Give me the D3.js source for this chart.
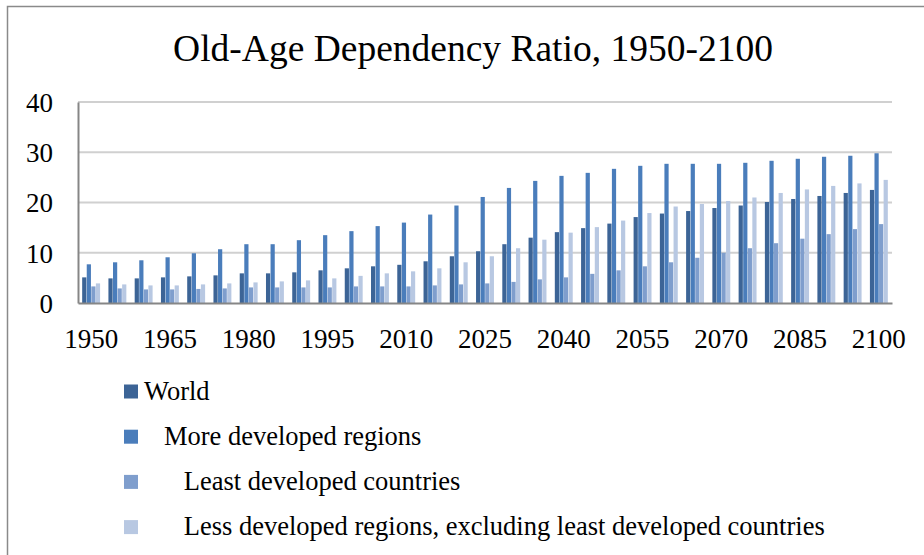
<!DOCTYPE html>
<html>
<head>
<meta charset="utf-8">
<script src="https://cdn.jsdelivr.net/npm/d3@7"></script>
<style>
  body { margin: 0; background: #fff; }
  svg { display: block; }
</style>
</head>
<body>
<div id="chart"></div>
<script>
const years = d3.range(1950, 2101, 5).map(String);
const world = [5.1, 4.9, 4.9, 5.1, 5.3, 5.5, 5.9, 5.9, 6.1, 6.5, 6.9, 7.3, 7.6, 8.3, 9.3, 10.3,
  11.7, 13.0, 14.1, 14.9, 15.8, 17.1, 17.8, 18.3, 18.9, 19.4, 20.1, 20.7, 21.3, 21.9, 22.5];
const moreDeveloped = [7.7, 8.1, 8.5, 9.1, 9.9, 10.7, 11.7, 11.7, 12.5, 13.5, 14.3, 15.3, 16.0, 17.6, 19.4, 21.1,
  22.9, 24.3, 25.3, 25.9, 26.7, 27.3, 27.7, 27.7, 27.7, 27.9, 28.3, 28.7, 29.1, 29.3, 29.8];
const leastDeveloped = [3.3, 2.9, 2.7, 2.7, 2.8, 2.9, 3.1, 3.1, 3.1, 3.1, 3.3, 3.3, 3.3, 3.5, 3.7, 3.9,
  4.2, 4.7, 5.1, 5.8, 6.5, 7.3, 8.1, 9.0, 10.0, 10.9, 11.9, 12.8, 13.7, 14.7, 15.7];
const lessDevelopedExclLdc = [3.9, 3.7, 3.5, 3.5, 3.7, 3.9, 4.1, 4.3, 4.5, 4.9, 5.4, 5.9, 6.3, 6.9, 8.1, 9.3,
  10.9, 12.6, 14.0, 15.1, 16.4, 17.9, 19.2, 19.7, 20.3, 21.0, 21.9, 22.6, 23.3, 23.8, 24.5];
const seriesNames = ['World', '   More developed regions', '      Least developed countries',
  '      Less developed regions, excluding least developed countries'];
const yTicks = [0, 10, 20, 30, 40];

const series = [world, moreDeveloped, leastDeveloped, lessDevelopedExclLdc];
const colours = ['#3c6496', '#4a7dbb', '#7f9ecd', '#b8c8e2'];

const width = 924;
const height = 555;
const margin = { top: 102, right: 32, bottom: 252, left: 78 };
const plotW = width - margin.left - margin.right;
const plotH = height - margin.top - margin.bottom;

const svg = d3.select('#chart').append('svg')
  .attr('width', width)
  .attr('height', height);

// outer chart frame (runs off the right and bottom edges)
svg.append('rect')
  .attr('x', 7.5).attr('y', 6.5)
  .attr('width', 940).attr('height', 570)
  .attr('fill', 'none')
  .attr('stroke', '#8a8a8a')
  .attr('stroke-width', 1.5);

svg.append('text')
  .attr('x', 473).attr('y', 61)
  .attr('text-anchor', 'middle')
  .style('font-family', '"Liberation Serif", "Times New Roman", serif')
  .style('font-size', '37.5px')
  .text('Old-Age Dependency Ratio, 1950-2100');

const g = svg.append('g').attr('transform', `translate(${margin.left},${margin.top})`);

const x = d3.scaleBand().domain(years).range([0, plotW]).paddingInner(0.29).paddingOuter(0.145);
const xs = d3.scaleBand().domain(d3.range(series.length)).range([0, x.bandwidth()]).padding(0.08);
const y = d3.scaleLinear().domain([0, 40]).range([plotH, 0]);

// gridlines
g.append('g')
  .selectAll('line')
  .data(yTicks.filter(d => d > 0))
  .join('line')
  .attr('x1', 0).attr('x2', plotW)
  .attr('y1', d => y(d)).attr('y2', d => y(d))
  .attr('stroke', '#d0d0d0')
  .attr('stroke-width', 2);

// bars
series.forEach((vals, si) => {
  g.append('g')
    .selectAll('rect')
    .data(vals)
    .join('rect')
    .attr('x', (d, i) => x(years[i]) + xs(si))
    .attr('y', d => y(d))
    .attr('width', xs.bandwidth())
    .attr('height', d => plotH - y(d))
    .attr('fill', colours[si]);
});

// axes
const yAxis = g.append('g').call(d3.axisLeft(y).tickValues(yTicks).tickSize(0).tickPadding(25));
const xAxis = g.append('g')
  .attr('transform', `translate(0,${plotH})`)
  .call(d3.axisBottom(x).tickValues(years.filter((d, i) => i % 3 === 0)).tickSize(0).tickPadding(26));

[yAxis, xAxis].forEach(ax => {
  ax.select('.domain').attr('stroke', '#868686').attr('stroke-width', 2);
  ax.selectAll('text')
    .attr('fill', '#000')
    .style('font-family', '"Liberation Serif", "Times New Roman", serif')
    .style('font-size', '27px');
});
yAxis.selectAll('text').attr('dy', '0.35em');

// legend
const legend = svg.append('g').attr('transform', 'translate(124,391.5)');
const item = legend.selectAll('g')
  .data(seriesNames)
  .join('g')
  .attr('transform', (d, i) => `translate(0,${i * 45.2})`);
item.append('rect')
  .attr('x', 0).attr('y', -7)
  .attr('width', 14).attr('height', 14)
  .attr('fill', (d, i) => colours[i]);
item.append('text')
  .attr('x', 20).attr('y', 8)
  .style('white-space', 'pre')
  .style('font-family', '"Liberation Serif", "Times New Roman", serif')
  .style('font-size', '26.5px')
  .text(d => d);
</script>
</body>
</html>
